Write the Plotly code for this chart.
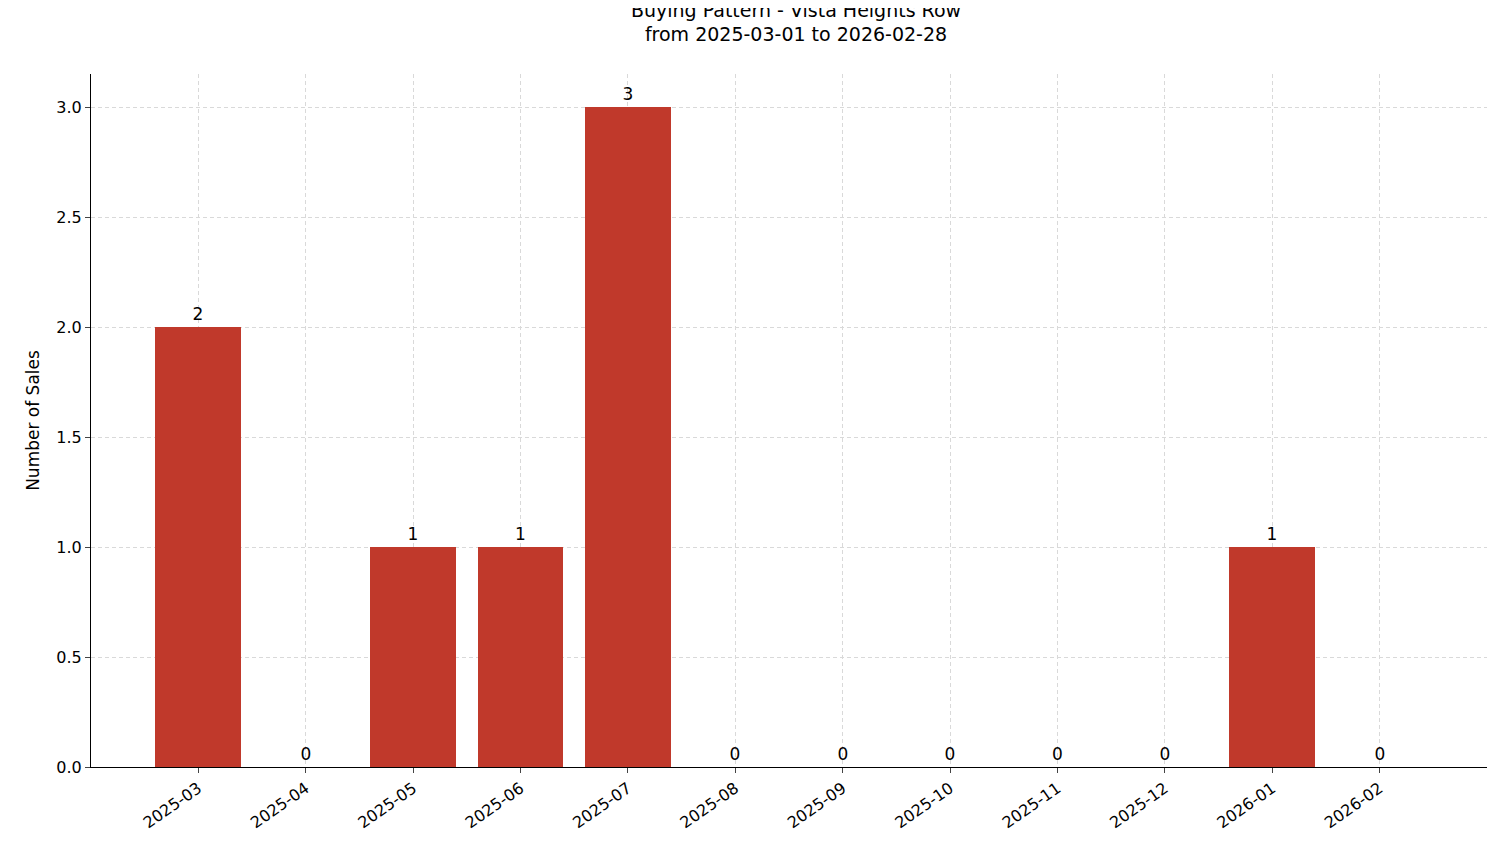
import plotly.graph_objects as go

months = ["2025-03","2025-04","2025-05","2025-06","2025-07","2025-08","2025-09","2025-10","2025-11","2025-12","2026-01","2026-02"]
sales = [2,0,1,1,3,0,0,0,0,0,1,0]

fig = go.Figure(go.Bar(
    x=list(range(len(months))), y=sales, width=0.8,
    marker=dict(color="#c0392b", line=dict(width=0)),
    text=[str(v) for v in sales], textposition="outside",
    textfont=dict(size=17, color="black"), cliponaxis=False,
))
fig.update_layout(
    width=1501, height=863,
    margin=dict(l=83, r=22, t=66, b=104),
    plot_bgcolor="white", paper_bgcolor="white",
    font=dict(family="DejaVu Sans", size=16, color="black"),
    title=dict(text="Buying Pattern - Vista Heights Row<br>from 2025-03-01 to 2026-02-28",
               x=0.525, xanchor="center", y=0.99, yanchor="top", font=dict(size=19)),
    showlegend=False, bargap=0,
)
fig.update_xaxes(
    range=[-1, 12], tickmode="array", tickvals=list(range(len(months))), ticktext=months,
    tickangle=-35, showgrid=True, gridcolor="#d9d9d9", griddash="4px,3px", gridwidth=1,
    showline=True, linecolor="black", ticks="outside", ticklen=5, zeroline=False,
    tickfont=dict(size=16),
)
fig.update_yaxes(
    range=[0, 3.15], tickvals=[0,0.5,1,1.5,2,2.5,3], ticktext=["0.0","0.5","1.0","1.5","2.0","2.5","3.0"],
    showgrid=True, gridcolor="#d9d9d9", griddash="4px,3px", gridwidth=1,
    showline=True, linecolor="black", ticks="outside", ticklen=5, zeroline=False,
    tickfont=dict(size=16),
    title=dict(text="Number of Sales", standoff=12, font=dict(size=17)),
)
fig.write_html("out.html")
